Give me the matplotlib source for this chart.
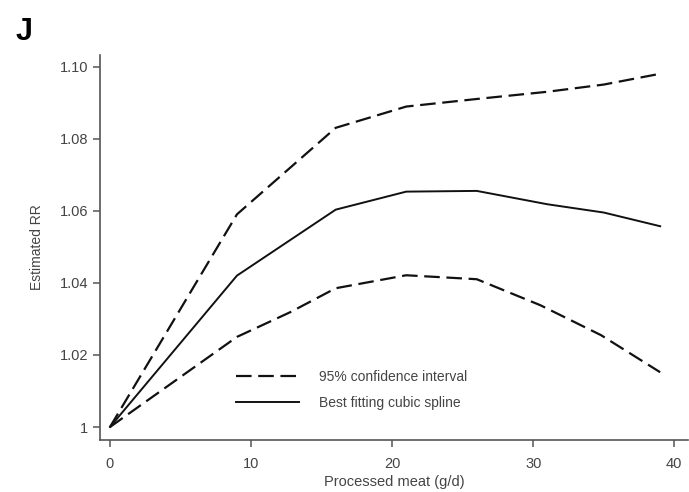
import matplotlib
matplotlib.use("Agg")
import matplotlib.pyplot as plt

plt.rcParams['font.family'] = ['Liberation Sans', 'DejaVu Sans']

# Data
x_knots = [0, 9, 16, 21, 26, 31, 35, 39]
spline = [1.000, 1.042, 1.0603, 1.0653, 1.0655, 1.0618, 1.0595, 1.0557]
upper = [1.000, 1.0590, 1.0830, 1.0889, 1.0910, 1.0930, 1.0950, 1.0980]
x_lower = [0, 9, 12.8, 16, 21, 26, 30.5, 34.8, 39]
lower = [1.000, 1.0250, 1.0319, 1.0385, 1.0421, 1.0410, 1.0338, 1.0255, 1.0152]

xticks = [0, 10, 20, 30, 40]
yticks = [1.00, 1.02, 1.04, 1.06, 1.08, 1.10]
ytick_labels = ['1', '1.02', '1.04', '1.06', '1.08', '1.10']

fig = plt.figure(figsize=(6.89, 4.92), dpi=100)
ax = fig.add_axes([0.1451, 0.1057, 0.854, 0.7825])

c = '#111111'
dash = (0, (7, 3))
ax.plot(x_knots, upper, color=c, lw=1.6, linestyle=dash, label='95% confidence interval')
ax.plot(x_lower, lower, color=c, lw=1.6, linestyle=dash)
ax.plot(x_knots, spline, color=c, lw=1.4, label='Best fitting cubic spline')

ax.set_xlim(-0.71, 41)
ax.set_ylim(0.9964, 1.1032)
ax.set_xticks(xticks)
ax.set_yticks(yticks)
ax.set_yticklabels(ytick_labels)

for s in ['top', 'right']:
    ax.spines[s].set_visible(False)
for s in ['left', 'bottom']:
    ax.spines[s].set_color('#555555')
    ax.spines[s].set_linewidth(1.2)
ax.tick_params(colors='#555555', labelcolor='#444444', labelsize=10.5, length=5, width=1.1)
ax.tick_params(axis='x', pad=7)

ax.set_xlabel('Processed meat (g/d)', fontsize=10.5, color='#444444', labelpad=3)
ax.set_ylabel('Estimated RR', fontsize=10, color='#444444', labelpad=11)

leg = ax.legend(loc='lower left', bbox_to_anchor=(0.21, 0.045), frameon=False,
                fontsize=10, handlelength=4.5, handletextpad=1.5, labelspacing=0.9)
for t in leg.get_texts():
    t.set_color('#444444')

fig.text(0.022, 0.965, 'J', fontsize=22, fontweight='bold', va='top', ha='left', color='black')

fig.savefig('out.png', dpi=100)
